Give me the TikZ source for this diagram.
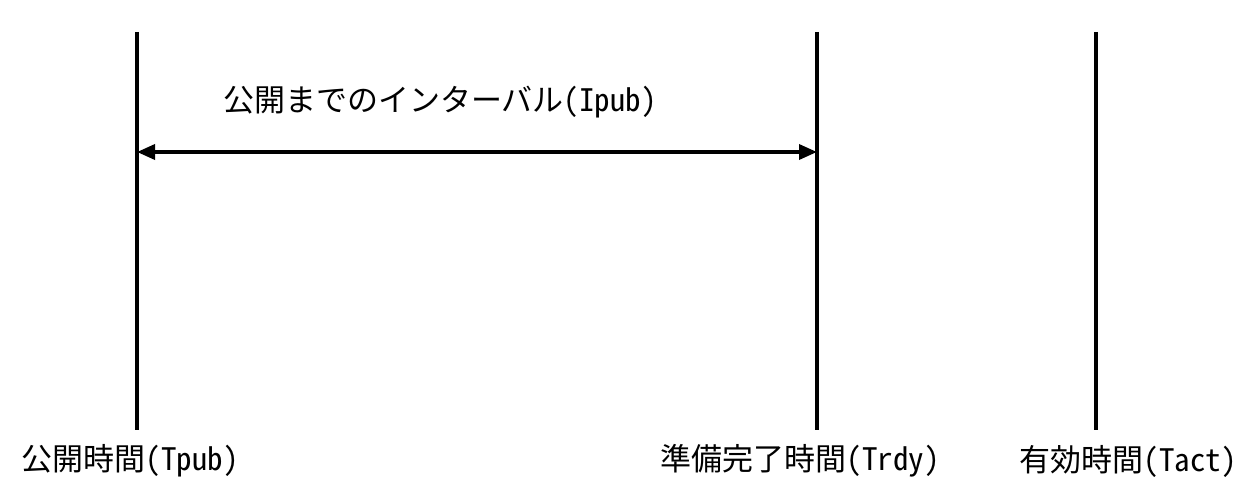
\documentclass[tikz,border=0pt]{standalone}
\usepackage{fontspec}
\setmainfont{Noto Sans CJK JP}[RawFeature={+hwid}]
\usetikzlibrary{arrows.meta}
\tikzset{
  timeline/.style={line width=3.5pt},
  span/.style={line width=3.5pt, {Triangle[length=18pt,width=15pt]}-{Triangle[length=18pt,width=15pt]}},
  lbl/.style={inner sep=0pt, font=\fontsize{31}{34}\selectfont}
}
\begin{document}
\begin{tikzpicture}[x=1pt,y=-1pt]
\useasboundingbox (0,0) rectangle (1252,503);
\coordinate (t1) at (137,32);  \coordinate (b1) at (137,430);
\coordinate (t2) at (817,32);  \coordinate (b2) at (817,430);
\coordinate (t3) at (1096,32); \coordinate (b3) at (1096,430);
\draw[timeline] (t1) -- (b1);
\draw[timeline] (t2) -- (b2);
\draw[timeline] (t3) -- (b3);
\coordinate (a1) at (137,152);
\coordinate (a2) at (817,152);
\draw[span] (a1) -- (a2);
\node[lbl] (ipub) at (440,102) {公開までのインターバル(Ipub)};
\node[lbl] (tpub) at (130,461) {公開時間(Tpub)};
\node[lbl] (trdy) at (800,461) {準備完了時間(Trdy)};
\node[lbl] (tact) at (1128,461) {有効時間(Tact)};
\end{tikzpicture}
\end{document}
